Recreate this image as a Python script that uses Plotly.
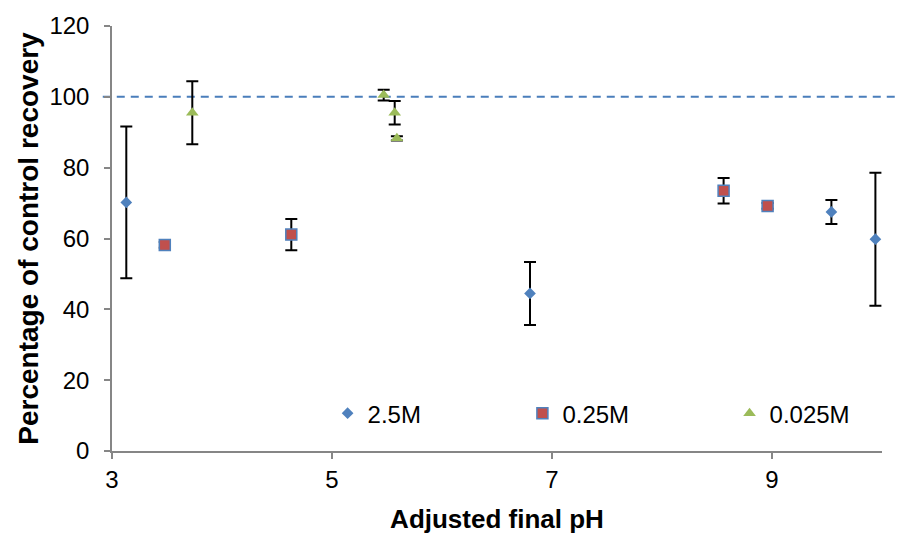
import plotly.graph_objects as go

# Series data (pH, percentage of control recovery, error)
names = ["2.5M", "0.25M", "0.025M"]
x_25 = [3.13, 6.80, 9.54, 9.94]
y_25 = [70.2, 44.5, 67.5, 59.8]
e_25 = [21.4, 8.9, 3.4, 18.8]

x_025 = [3.48, 4.63, 8.56, 8.96]
y_025 = [58.2, 61.1, 73.5, 69.2]
e_025 = [0.8, 4.4, 3.6, 0.8]

x_0025 = [3.73, 5.47, 5.57, 5.59]
y_0025 = [95.5, 100.5, 95.5, 88.3]
e_0025 = [8.9, 1.5, 3.3, 0.6]

reference_level = 100
x_ticks = [3, 5, 7, 9]
y_ticks = [0, 20, 40, 60, 80, 100, 120]

FONT = "Liberation Sans, Arial, sans-serif"
err_style = dict(type="data", visible=True, color="black", thickness=2, width=6)

fig = go.Figure()
fig.add_trace(go.Scatter(
    x=x_25, y=y_25, mode="markers", name=names[0], legend="legend",
    marker=dict(symbol="diamond", size=9, color="#4F81BD"),
    error_y=dict(array=e_25, **err_style)))
fig.add_trace(go.Scatter(
    x=x_025, y=y_025, mode="markers", name=names[1], legend="legend2",
    marker=dict(symbol="square", size=11, color="#C0504D",
                line=dict(color="#4F81BD", width=1.5)),
    error_y=dict(array=e_025, **err_style)))
fig.add_trace(go.Scatter(
    x=x_0025, y=y_0025, mode="markers", name=names[2], legend="legend3",
    marker=dict(symbol="triangle-up", size=11, color="#9BBB59"),
    error_y=dict(array=e_0025, **err_style)))

fig.add_shape(type="line", xref="paper", yref="y",
              x0=-0.012, x1=1.03, y0=reference_level, y1=reference_level,
              line=dict(color="#4A7EBB", width=2, dash="8px,6px"), layer="below")

leg_common = dict(y=0.088, xanchor="left", yanchor="middle",
                  font=dict(size=24), bgcolor="rgba(0,0,0,0)")

fig.update_layout(
    width=898, height=534,
    margin=dict(l=112, r=16, t=26, b=83),
    paper_bgcolor="white", plot_bgcolor="white",
    font=dict(family=FONT, size=24, color="black"),
    showlegend=True,
    legend=dict(x=0.280, **leg_common),
    legend2=dict(x=0.533, **leg_common),
    legend3=dict(x=0.802, **leg_common),
)
fig.update_xaxes(
    range=[3, 10], tickvals=x_ticks, showgrid=False, zeroline=False,
    showline=True, linecolor="#868686", linewidth=1.5,
    ticks="outside", ticklen=6, tickcolor="#868686", tickwidth=1.5,
    title=dict(text="<b>Adjusted final pH</b>", font=dict(size=26), standoff=18),
    tickfont=dict(size=24), automargin=False,
)
fig.update_yaxes(
    range=[0, 120], tickvals=y_ticks, showgrid=False, zeroline=False,
    showline=True, linecolor="#868686", linewidth=1.5,
    ticks="outside", ticklen=6, tickcolor="#868686", tickwidth=1.5,
    title=dict(text="<b>Percentage of control recovery</b>", font=dict(size=28), standoff=3),
    tickfont=dict(size=24), ticklabelstandoff=10, automargin=False,
)

fig.write_html("out.html")
